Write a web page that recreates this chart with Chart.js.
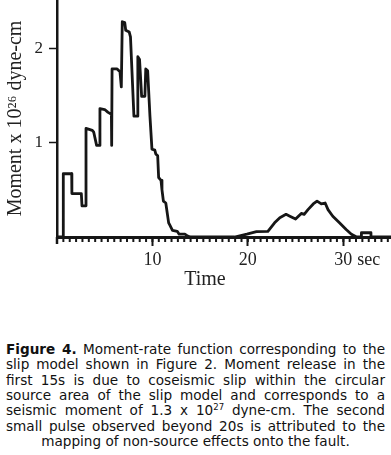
<!DOCTYPE html>
<html>
<head>
<meta charset="utf-8">
<script src="https://cdn.jsdelivr.net/npm/chart.js@4/dist/chart.umd.min.js"></script>
<style>
  html, body { margin: 0; padding: 0; background: #fff; }
  #wrap { position: relative; width: 391px; height: 455px; overflow: hidden; }
  #chartBox { position: absolute; left: 0; top: 0; width: 391px; height: 300px; }
  #caption {
    position: absolute; left: 6px; top: 342px; width: 379px;
    font-family: "DejaVu Sans", Verdana, sans-serif; font-size: 13.6px;
    line-height: 15.35px; color: #111;
  }
  #caption div { text-align: justify; text-align-last: justify; white-space: nowrap; }
  #caption div.last { text-align: center; text-align-last: center; }
  #caption sup { font-size: 8.5px; line-height: 0; vertical-align: 5px; }
</style>
</head>
<body>
<div id="wrap">
  <div id="chartBox"><canvas id="chartCanvas" width="391" height="300"></canvas></div>
  <div id="caption">
    <div><b>Figure 4.</b> Moment-rate function corresponding to the</div>
    <div>slip model shown in Figure 2. Moment release in the</div>
    <div>first 15s is due to coseismic slip within the circular</div>
    <div>source area of the slip model and corresponds to a</div>
    <div>seismic moment of 1.3 x 10<sup>27</sup> dyne-cm. The second</div>
    <div>small pulse observed beyond 20s is attributed to the</div>
    <div class="last">mapping of non-source effects onto the fault.</div>
  </div>
</div>
<script>
// time (sec) and moment rate (x 10^26 dyne-cm)
var timeSec = [
  0, 0.66, 0.66, 1.54, 1.56, 2.55, 2.62, 3.04, 3.04, 3.7, 3.85, 4.15, 4.5, 4.5,
  5.0, 5.35, 5.7, 5.73, 5.77, 6.3, 6.6, 6.74, 6.84, 7.1, 7.2, 7.57, 7.7, 8.06,
  8.4, 8.47, 8.65, 8.87, 9.21, 9.3, 9.5, 9.74, 9.95, 10.25, 10.35, 10.55, 10.65,
  10.9, 11.0, 11.15, 11.4, 11.7, 11.8, 12.1, 12.6, 12.8, 13.4, 13.7, 14.0,
  18.6, 19.9, 20.9, 22.1, 22.8, 23.35, 24.0, 24.4, 25.0, 25.6, 25.9, 26.3,
  26.85, 27.25, 27.7, 28.1, 28.4, 28.9, 29.6, 30.3, 30.85, 31.4, 31.9, 31.9,
  32.9, 32.9, 35
];
var momentRate = [
  0, 0, 0.67, 0.67, 0.46, 0.46, 0.33, 0.33, 1.15, 1.13, 1.11, 0.97, 0.97, 1.36,
  1.35, 1.32, 1.30, 0.97, 1.78, 1.78, 1.75, 1.59, 2.28, 2.27, 2.19, 2.17, 2.12, 1.28,
  1.28, 1.91, 1.88, 1.49, 1.49, 1.78, 1.76, 1.28, 0.93, 0.92, 0.88, 0.86, 0.63,
  0.60, 0.50, 0.38, 0.36, 0.15, 0.13, 0.07, 0.06, 0.03, 0.03, 0.01, 0,
  0, 0.03, 0.056, 0.06, 0.15, 0.205, 0.24, 0.22, 0.19, 0.25, 0.24, 0.29,
  0.35, 0.38, 0.35, 0.36, 0.29, 0.22, 0.15, 0.08, 0.03, 0, 0, 0.045,
  0.045, 0, 0
];
var xTickValues = [10, 20, 30];
var yTickValues = [1, 2];
var xTitle = 'Time';
var xUnit = 'sec';
var yTitle = 'Moment x 10\u00B2\u2076 dyne-cm';

var points = timeSec.map(function (t, i) { return { x: t, y: momentRate[i] }; });

var serif = '"Liberation Serif", "Times New Roman", serif';
var ink = '#161616';

var extrasPlugin = {
  id: 'extras',
  afterDraw: function (chart) {
    var ctx = chart.ctx;
    var xs = chart.scales.x, ys = chart.scales.y;
    var axisY = xs.top;
    ctx.save();
    ctx.strokeStyle = ink;
    ctx.lineWidth = 2;
    // minor ticks every 2/3 s
    for (var k = 1; k * 2 / 3 <= xs.max + 0.001; k++) {
      var px = xs.getPixelForValue(k * 2 / 3);
      ctx.beginPath();
      ctx.moveTo(px, axisY);
      ctx.lineTo(px, axisY + 5);
      ctx.stroke();
    }
    // y axis runs a little below the x axis
    ctx.lineWidth = 2.5;
    ctx.beginPath();
    ctx.moveTo(ys.right, ys.getPixelForValue(0));
    ctx.lineTo(ys.right, ys.getPixelForValue(0) + 7);
    ctx.stroke();
    ctx.fillStyle = '#222';
    ctx.font = '18px ' + serif;
    ctx.textBaseline = 'middle';
    ctx.textAlign = 'left';
    ctx.fillText(xUnit, xs.getPixelForValue(30) + 14, 260);
    ctx.font = '20px ' + serif;
    ctx.textAlign = 'center';
    ctx.fillText(xTitle, xs.getPixelForValue(15.5), 280);
    ctx.restore();
  }
};

new Chart(document.getElementById('chartCanvas').getContext('2d'), {
  type: 'line',
  data: {
    datasets: [{
      data: points,
      borderColor: ink,
      borderWidth: 2.8,
      borderJoinStyle: 'round',
      pointRadius: 0,
      tension: 0,
      fill: false
    }]
  },
  options: {
    responsive: false,
    animation: false,
    events: [],
    layout: { padding: 0 },
    plugins: { legend: { display: false }, tooltip: { enabled: false } },
    scales: {
      x: {
        type: 'linear',
        min: 0,
        max: 35,
        afterFit: function (s) { s.height = 63; s.paddingLeft = 0; s.paddingRight = 0; },
        afterBuildTicks: function (s) { s.ticks = xTickValues.map(function (v) { return { value: v }; }); },
        grid: { drawOnChartArea: false, tickLength: 9, tickColor: ink, tickWidth: 2 },
        border: { color: ink, width: 3 },
        ticks: {
          color: '#222',
          padding: 3,
          maxRotation: 0,
          font: { family: serif, size: 18 },
          callback: function (v) { return String(v); }
        }
      },
      y: {
        min: 0,
        max: 2.51,
        afterFit: function (s) { s.width = 57; s.paddingTop = 0; s.paddingBottom = 0; },
        afterBuildTicks: function (s) { s.ticks = yTickValues.map(function (v) { return { value: v }; }); },
        grid: { drawOnChartArea: false, tickLength: 8, tickColor: ink, tickWidth: 1.5 },
        border: { color: ink, width: 2.5 },
        ticks: {
          color: '#222',
          padding: 6,
          font: { family: serif, size: 17 },
          callback: function (v) { return String(v); }
        },
        title: {
          display: true,
          text: yTitle,
          color: '#222',
          padding: { top: 4, bottom: 0 },
          font: { family: serif, size: 20 }
        }
      }
    }
  },
  plugins: [extrasPlugin]
});
</script>
</body>
</html>
